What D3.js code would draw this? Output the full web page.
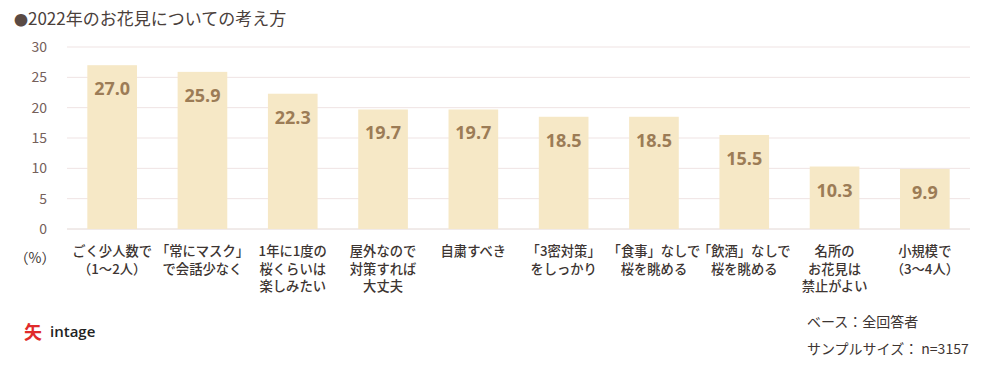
<!DOCTYPE html>
<html><head><meta charset="utf-8">
<script src="https://cdn.jsdelivr.net/npm/d3@7"></script>
<style>
body{margin:0;background:#fff;}
svg{display:block;font-family:"Noto Sans CJK JP","Noto Sans",sans-serif;}
</style></head>
<body><svg id="c" width="988" height="369"></svg>
<script>
const categories = [
  ["ごく少人数で","（1～2人）"],
  ["「常にマスク」","で会話少なく"],
  ["1年に1度の","桜くらいは","楽しみたい"],
  ["屋外なので","対策すれば","大丈夫"],
  ["自粛すべき"],
  ["「3密対策」","をしっかり"],
  ["「食事」なしで","桜を眺める"],
  ["「飲酒」なしで","桜を眺める"],
  ["名所の","お花見は","禁止がよい"],
  ["小規模で","（3～4人）"]
];
const values = [27.0, 25.9, 22.3, 19.7, 19.7, 18.5, 18.5, 15.5, 10.3, 9.9];
const yTicks = [0, 5, 10, 15, 20, 25, 30];

const svg = d3.select("#c");
const x = d3.scaleBand().domain(d3.range(categories.length)).range([67, 970]).paddingInner(0.45).paddingOuter(0.225);
const y = d3.scaleLinear().domain([0, 30]).range([229, 47]);

// title
const t = svg.append("text").attr("x", 14).attr("y", 25).attr("font-size", 17).attr("fill", "#4a403b");
t.append("tspan").attr("font-size", 14).attr("fill", "#5a4a44").text("●");
t.append("tspan").text("2022年のお花見についての考え方");

// gridlines
svg.append("g").selectAll("line").data(yTicks).join("line")
  .attr("x1", 67).attr("x2", 970).attr("y1", d => y(d)).attr("y2", d => y(d))
  .attr("stroke", d => d === 0 ? "#e2d6d3" : "#efe3e3").attr("stroke-width", 1);

// y axis
const yAxis = d3.axisLeft(y).tickValues(yTicks).tickSize(0).tickPadding(0);
const gy = svg.append("g").attr("transform", "translate(47,0)").call(yAxis);
gy.select(".domain").remove();
gy.selectAll("text").attr("font-size", 14).attr("fill", "#75605a").attr("font-family", "\"Noto Sans CJK JP\",sans-serif");

// bars
svg.append("g").selectAll("rect").data(values).join("rect")
  .attr("x", (d, i) => x(i)).attr("width", x.bandwidth())
  .attr("y", d => y(d)).attr("height", d => y(0) - y(d))
  .attr("fill", "#f6e8c6");

// value labels
svg.append("g").selectAll("text").data(values).join("text")
  .attr("x", (d, i) => x(i) + x.bandwidth() / 2).attr("y", d => y(d) + 30)
  .attr("text-anchor", "middle").attr("font-size", 18).attr("font-weight", "bold")
  .attr("fill", "#9c7c56").attr("font-family", "\"Open Sans\",\"Noto Sans\",sans-serif")
  .text(d => d.toFixed(1));

// category labels
const cg = svg.append("g").selectAll("text").data(categories).join("text")
  .attr("x", (d, i) => x(i) + x.bandwidth() / 2).attr("y", 256)
  .attr("text-anchor", "middle").attr("font-size", 13.3).attr("font-weight", 500).attr("fill", "#3d3532");
cg.selectAll("tspan").data(d => d).join("tspan")
  .attr("x", function(){ return this.parentNode.getAttribute("x"); })
  .attr("dy", (d, i) => i === 0 ? 0 : 17.5).text(d => d);

svg.append("text").attr("x", 35).attr("y", 263).attr("text-anchor", "middle")
  .attr("font-size", 14).attr("fill", "#3d3532").text("（%）");

// logo
const lg = svg.append("g").attr("transform", "translate(24,322)");
lg.append("text").attr("x", 0).attr("y", 17).attr("font-size", 18).attr("font-weight", "bold").attr("fill", "#e02a2a").text("矢");
lg.append("text").attr("x", 26).attr("y", 15).attr("font-size", 15).attr("font-weight", 600).attr("fill", "#222").attr("font-family", "\"Open Sans\",sans-serif").text("intage");

// base text
svg.append("text").attr("x", 807).attr("y", 327).attr("font-size", 14).attr("fill", "#3d3532").text("ベース：全回答者");
svg.append("text").attr("x", 807).attr("y", 354).attr("font-size", 14).attr("fill", "#3d3532").text("サンプルサイズ：  n=3157");
</script></body></html>
